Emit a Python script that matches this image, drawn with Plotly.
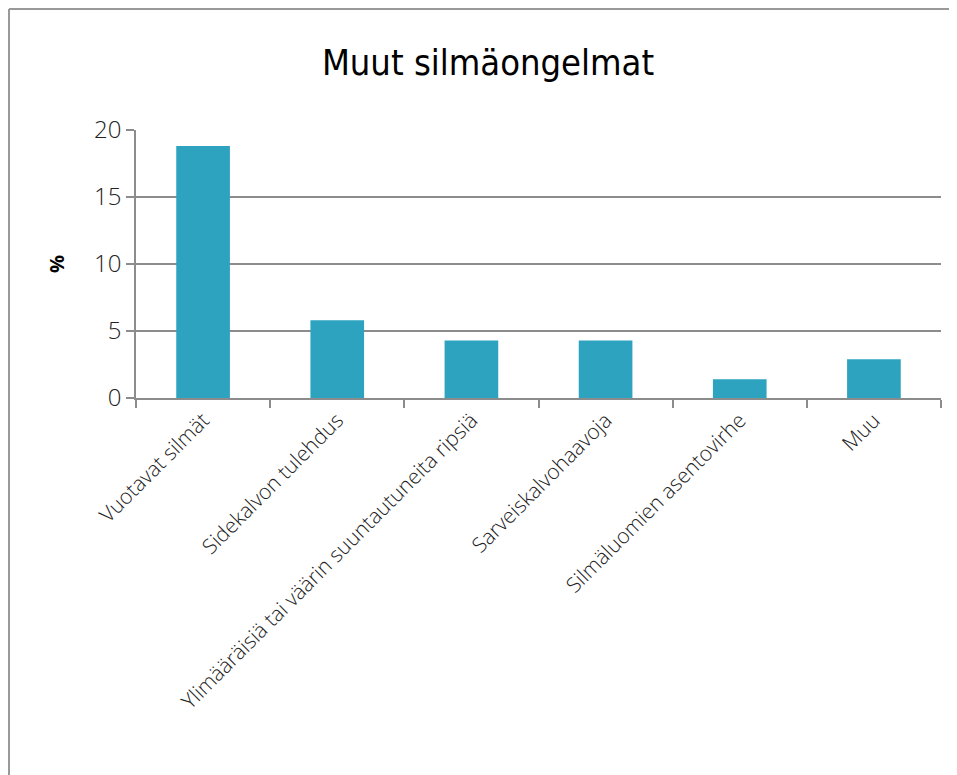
import plotly.graph_objects as go

categories = [
    "Vuotavat silmät",
    "Sidekalvon tulehdus",
    "Ylimääräisiä tai väärin suuntautuneita ripsiä",
    "Sarveiskalvohaavoja",
    "Silmäluomien asentovirhe",
    "Muu",
]
values = [18.8, 5.8, 4.3, 4.3, 1.4, 2.9]
y_ticks = [0, 5, 10, 15, 20]

W, H = 957, 775
# page body has an 8px margin; figure coords = screen coords - 8
L, R, T, B = 128, 24, 122, 385
pw, ph = W - L - R, H - T - B

def px_x(px):
    return (px - L) / pw

def px_y(py):
    return (H - B - py) / ph

grid = "#8c8c8c"

fig = go.Figure(go.Bar(
    x=categories, y=values,
    marker=dict(color="#2ea3c0", line=dict(width=0)),
    width=0.4,
))

fig.update_layout(
    width=W, height=H,
    margin=dict(l=L, r=R, t=T, b=B),
    paper_bgcolor="white", plot_bgcolor="white",
    showlegend=False,
    title=dict(
        text="Muut silmäongelmat",
        x=(488 - 8) / W, xanchor="center", y=1 - 54 / H, yanchor="middle",
        font=dict(family="DejaVu Sans Condensed, sans-serif", size=36, color="black"),
    ),
    font=dict(family="Open Sans, sans-serif", color="#222"),
    bargap=0.6,
    shapes=[
        dict(type="line", xref="paper", yref="paper",
             x0=px_x(1), x1=px_x(W + 5), y0=px_y(1), y1=px_y(1),
             line=dict(color="#999999", width=2)),
        dict(type="line", xref="paper", yref="paper",
             x0=px_x(1), x1=px_x(1), y0=px_y(1), y1=px_y(H + 5),
             line=dict(color="#999999", width=2)),
    ],
)

fig.update_yaxes(
    range=[0, 20], tickvals=y_ticks,
    showgrid=True, gridcolor=grid, gridwidth=1.5,
    showline=True, linecolor=grid, linewidth=1.5,
    ticks="outside", ticklen=8, tickcolor=grid, tickwidth=1.5,
    tickfont=dict(size=24, family="Open Sans, sans-serif", weight=300, color="#222"),
    zeroline=False,
    title=dict(text="<b>%</b>", font=dict(size=20, color="black"), standoff=24),
)
fig.update_xaxes(
    showline=True, linecolor=grid, linewidth=1.5,
    ticks="outside", ticklen=8, tickcolor=grid, tickwidth=1.5,
    tickson="boundaries",
    tickangle=-45,
    tickfont=dict(size=21, family="Open Sans, sans-serif", weight=300, color="#222"),
)

fig.write_html("out.html")
